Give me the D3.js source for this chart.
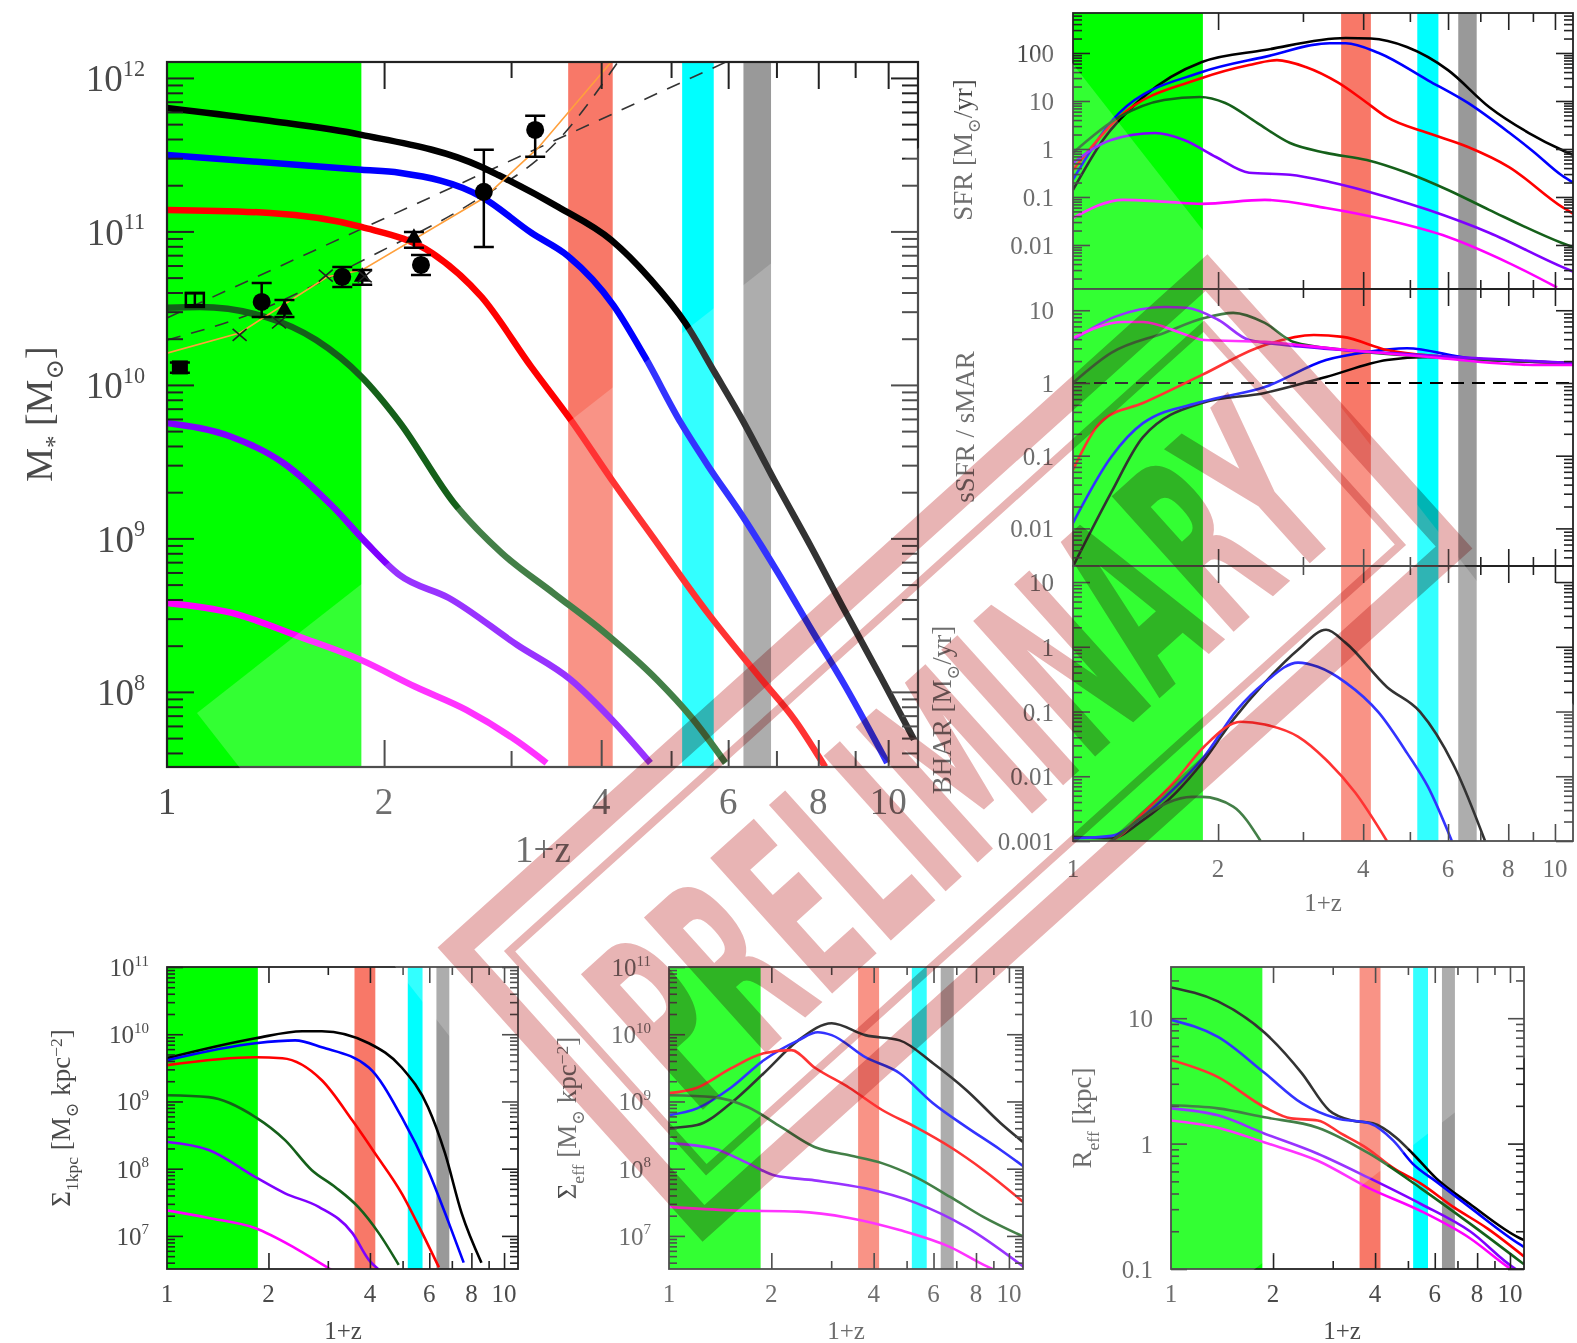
<!DOCTYPE html>
<html lang="en">
<head>
<meta charset="utf-8">
<title>Galaxy growth panels</title>
<script src="https://cdn.jsdelivr.net/npm/d3@7"></script>
<style>
  body { margin: 0; background: #fff; }
  svg text { font-family: "Liberation Serif", "DejaVu Serif", serif; fill: #4a4a4a; }
</style>
</head>
<body>
<script>
// shaded redshift windows (1+z), same in every panel
var bandRanges = [[1, 1.86], [3.6, 4.15], [5.18, 5.73], [6.3, 6.88]];
var bandColors = ["#00ff00", "#f87868", "#00ffff", "#999999"];

// one colour per simulated galaxy, in the order of the curve lists below
var seriesColors = ["#000000", "#0000ff", "#ff0000", "#15601a", "#7f00ff", "#ff00ff"];

// ---- M* [Msun] vs 1+z (big panel)
var mstarBlack = [[1,6.38e11],[1.37,5.3e11],[1.86,4.26e11],[2.73,2.63e11],[2.88,2.33e11],[3.49,1.44e11],[4.13,8.8e10],[4.69,4.83e10],[5.23,2.54e10],[5.75,1.2e10],[6.28,5.9e9],[7.0,2.26e9],[7.83,8.7e8],[8.73,3.3e8],[9.75,1.27e8],[10.86,4.9e7]];
var mstarBlue = [[1,3.15e11],[1.86,2.52e11],[2.1,2.41e11],[2.73,1.68e11],[3.2,9.8e10],[3.6,6.9e10],[4.16,3.3e10],[4.6,1.52e10],[5.16,5.65e9],[5.62,3.0e9],[6.28,1.4e9],[7.0,6.2e8],[7.83,2.54e8],[8.73,1.08e8],[9.97,3.45e7]];
var mstarRed = [[1,1.38e11],[1.39,1.32e11],[1.86,1.07e11],[2.33,7.24e10],[2.73,3.74e10],[3.2,1.31e10],[3.63,5.92e9],[4.14,2.4e9],[4.78,9.35e8],[5.62,3.27e8],[6.63,1.25e8],[7.42,6.58e7],[8.18,3.24e7]];
var mstarGreen = [[1,3.18e10],[1.11,3.22e10],[1.37,2.77e10],[1.61,1.96e10],[1.86,1.13e10],[2.1,5.74e9],[2.5,1.7e9],[2.91,8.05e8],[3.43,4.42e8],[4.05,2.42e8],[4.78,1.2e8],[5.33,6.87e7],[5.95,3.44e7]];
var mstarPurple = [[1,5.65e9],[1.23,4.58e9],[1.45,3.1e9],[1.7,1.6e9],[1.89,9.35e8],[2.1,5.78e8],[2.46,4.09e8],[3.06,2.02e8],[3.63,1.2e8],[4.14,6.58e7],[4.68,3.44e7]];
var mstarMagenta = [[1,3.8e8],[1.23,3.27e8],[1.53,2.28e8],[1.86,1.61e8],[2.21,1.08e8],[2.6,7.64e7],[3.07,4.72e7],[3.36,3.44e7]];

// observed stellar masses: [1+z, value, low, high]
var obsCircles = [[1.353,3.47e10,2.77e10,4.61e10],[1.75,5.06e10,4.35e10,5.87e10],[2.25,6.05e10,5.21e10,7.03e10],[2.75,1.81e11,7.92e10,3.4e11],[3.24,4.58e11,3.06e11,5.66e11]];
var obsTriangles = [[1.455,3.08e10,2.77e10,3.58e10],[1.865,5.06e10,4.5e10,5.6e10],[2.2,9.07e10,7.82e10,9.93e10]];
var obsSquares = [[1.042,1.3e10,1.2e10,1.4e10]];
var obsOpenSquares = [[1.093,3.58e10,3.3e10,3.95e10]];
var obsCrosses = [[1.261,2.12e10],[1.43,2.55e10],[1.66,5.15e10],[1.88,5.1e10]];
var abundanceOrange = [[1,1.61e10],[1.261,2.18e10],[1.669,5.06e10],[1.865,5.61e10],[2.75,1.65e11],[3.27,3.5e11],[4.13,1.27e12]];
var dashUpper = [[1,2.73e10],[5.96,1.27e12]];
var dashLower = [[1,1.96e10],[1.261,2.73e10],[1.97,7.35e10],[2.62,1.49e11],[3.49,3.95e11],[4.22,1.27e12]];

// ---- SFR [Msun/yr]
var sfrBlack = [[1,0.14],[1.154,1.54],[1.397,12],[1.852,65],[2.5,115],[3.68,205],[4.15,200],[4.93,133],[6.0,44],[7.3,7.5],[8.83,2.15],[10.34,0.95],[10.9,0.75]];
var sfrBlue = [[1,0.23],[1.246,5.6],[1.852,40],[2.5,83],[3.41,160],[3.68,160],[4.31,100],[5.45,27],[6.6,9.1],[8.03,2.2],[9.0,0.9],[10.34,0.28],[10.9,0.2]];
var sfrRed = [[1,0.365],[1.246,4.6],[1.852,30],[2.32,56],[2.65,71],[3.04,51],[3.55,24],[4.0,10.5],[4.48,4.6],[5.45,2.15],[6.6,1.1],[8.03,0.42],[10.34,0.062],[10.9,0.045]];
var sfrGreen = [[1,0.83],[1.246,4.6],[1.545,10.5],[1.834,12.1],[2.07,9.1],[2.41,3.5],[2.82,1.33],[3.35,0.83],[4.07,0.59],[4.93,0.32],[6.0,0.14],[7.3,0.054],[10.34,0.011],[10.9,0.009]];
var sfrPurple = [[1,0.51],[1.2,1.54],[1.48,2.15],[1.7,1.54],[1.98,0.68],[2.32,0.32],[2.82,0.29],[3.41,0.205],[4.48,0.1],[5.45,0.054],[7.3,0.018],[10.34,0.0035],[10.9,0.0028]];
var sfrMagenta = [[1,0.0365],[1.27,0.087],[1.57,0.079],[1.852,0.072],[2.5,0.087],[3.35,0.059],[4.48,0.033],[6.0,0.0147],[8.03,0.0042],[10.1,0.0013]];

// ---- sSFR / sMAR
var ssfrBlack = [[1,0.003],[1.2,0.031],[1.397,0.18],[1.852,0.53],[2.5,0.73],[3.35,1.21],[4.48,2.07],[5.45,2.28],[7.3,2.07],[10.9,1.88]];
var ssfrBlue = [[1,0.0119],[1.2,0.096],[1.397,0.28],[1.852,0.55],[2.5,0.88],[3.35,2.07],[4.07,2.67],[4.93,3.0],[6.6,2.2],[10.9,1.88]];
var ssfrRed = [[1,0.064],[1.154,0.31],[1.397,0.53],[1.852,1.29],[2.44,3.13],[3.16,4.57],[3.63,4.3],[4.48,2.84],[6.0,2.28],[10.9,1.88]];
var ssfrGreen = [[1,1.0],[1.2,2.59],[1.545,4.87],[1.87,7.8],[2.15,9.2],[2.5,6.7],[2.87,3.67],[3.68,2.84],[5.45,2.28],[10.9,1.88]];
var ssfrPurple = [[1,3.9],[1.22,8.1],[1.545,11.1],[1.72,10.8],[2.0,7.4],[2.32,3.9],[3.04,3.13],[4.48,2.59],[10.9,1.88]];
var ssfrMagenta = [[1,4.16],[1.27,6.9],[1.397,6.9],[1.72,4.57],[1.87,3.9],[2.5,3.67],[3.68,2.84],[5.45,2.28],[9.0,1.77],[10.9,1.77]];

// ---- BHAR [Msun/yr]
var bharBlack = [[1,0.00116],[1.2,0.0011],[1.397,0.0021],[1.636,0.0056],[1.852,0.016],[2.15,0.075],[2.5,0.28],[2.93,0.9],[3.35,1.83],[3.68,1.15],[4.48,0.24],[5.25,0.099],[6.23,0.0126],[7.16,0.001]];
var bharBlue = [[1,0.0011],[1.2,0.0012],[1.397,0.0024],[1.636,0.0069],[1.87,0.02],[2.19,0.106],[2.5,0.28],[2.93,0.57],[3.22,0.49],[3.68,0.28],[4.31,0.096],[4.93,0.023],[5.45,0.0069],[6.11,0.001]];
var bharRed = [[1,0.0008],[1.2,0.001],[1.397,0.0027],[1.636,0.0088],[1.87,0.0286],[2.23,0.0695],[2.5,0.063],[2.93,0.041],[3.35,0.018],[3.85,0.0056],[4.48,0.001]];
var bharGreen = [[1,0.0007],[1.2,0.001],[1.397,0.0024],[1.766,0.0048],[1.852,0.0048],[2.15,0.0034],[2.45,0.001]];

// ---- Sigma_1kpc [Msun kpc^-2]
var s1Black = [[1,4.4e9],[1.83,8.7e9],[2.52,1.11e10],[2.88,1.11e10],[3.97,7.35e9],[4.97,3.2e9],[5.95,8.2e8],[6.68,1.7e8],[7.48,2.2e7],[8.57,4e6]];
var s1Blue = [[1,4.1e9],[1.83,7.35e9],[2.4,8.1e9],[2.88,6.4e9],[3.97,3.2e9],[4.97,5.85e8],[5.95,9.5e7],[6.86,1.55e7],[7.59,4e6]];
var s1Red = [[1,3.47e9],[1.83,4.55e9],[2.2,4.4e9],[2.88,2.07e9],[3.55,5.2e8],[4.14,1.7e8],[4.97,4.3e7],[5.72,1.1e7],[6.41,3.4e6]];
var s1Green = [[1,1.24e9],[1.33,1.16e9],[1.83,5.85e8],[2.24,2.66e8],[2.69,9.5e7],[3.16,5.3e7],[3.69,2.7e7],[4.25,1.1e7],[4.87,3.7e6]];
var s1Purple = [[1,2.5e8],[1.33,1.9e8],[1.83,7.5e7],[2.24,4.3e7],[2.82,2.7e7],[3.55,1.1e7],[3.97,4.4e6],[4.3,3e6]];
var s1Magenta = [[1,2.4e7],[1.33,1.85e7],[1.83,1.3e7],[2.4,6.6e6],[3.02,3.3e6],[3.2,2.8e6]];

// ---- Sigma_eff [Msun kpc^-2]
var seBlack = [[1,4e8],[1.21,4.45e8],[1.52,9.4e8],[1.9,2.63e9],[2.4,8.1e9],[3.01,1.46e10],[3.78,9.7e9],[4.77,8.1e9],[5.98,3.7e9],[7.5,1.47e9],[9.46,4.75e8],[11.1,2.4e8]];
var seBlue = [[1,6.25e8],[1.21,7.9e8],[1.52,1.6e9],[1.9,4.1e9],[2.4,8.1e9],[2.74,1.07e10],[3.01,9.7e9],[3.78,4.55e9],[4.77,2.63e9],[5.98,9.4e8],[7.5,4.15e8],[9.46,1.9e8],[11.1,1.06e8]];
var seRed = [[1,1.33e9],[1.21,1.6e9],[1.52,3.1e9],[1.9,5.2e9],[2.29,5.8e9],[2.68,3.2e9],[3.39,1.6e9],[4.25,7.4e8],[5.32,4.15e8],[6.72,2.1e8],[8.43,9.5e7],[11.1,3.1e7]];
var seGreen = [[1,1.24e9],[1.35,1.16e9],[1.71,8.2e8],[2.14,4.15e8],[2.68,2.1e8],[3.39,1.58e8],[4.25,1.2e8],[5.32,7.5e7],[6.72,3.8e7],[8.43,1.9e7],[11.1,9.6e6]];
var sePurple = [[1,2.4e8],[1.35,2.0e8],[1.71,1.2e8],[2.05,7.9e7],[2.68,6.7e7],[3.78,5.1e7],[5.32,3.1e7],[7.5,1.35e7],[11.1,3.4e6]];
var seMagenta = [[1,2.7e7],[1.52,2.4e7],[2.4,2.3e7],[3.39,1.85e7],[4.77,1.22e7],[6.72,6.8e6],[8.43,3.7e6],[9.5,2.8e6]];

// ---- R_eff [kpc]
var reBlack = [[1,17.6],[1.376,13.6],[1.89,7.65],[2.43,3.65],[2.93,1.84],[3.42,1.53],[3.94,1.45],[4.61,1.12],[5.17,0.83],[6.05,0.53],[7.62,0.33],[10.7,0.176],[11,0.17]];
var reBlue = [[1,9.7],[1.376,7.1],[1.89,3.65],[2.43,2.1],[3.07,1.59],[3.85,1.45],[4.52,1.06],[5.17,0.69],[6.05,0.5],[7.62,0.31],[10.7,0.157],[11,0.15]];
var reRed = [[1,4.64],[1.376,3.39],[1.89,1.95],[2.26,1.59],[2.71,1.53],[3.18,1.2],[3.76,0.93],[4.52,0.64],[5.46,0.48],[6.84,0.31],[8.59,0.21],[11,0.126]];
var reGreen = [[1,2.02],[1.376,1.91],[1.89,1.62],[2.71,1.34],[3.85,0.83],[5.46,0.44],[7.62,0.23],[11,0.109]];
var rePurple = [[1,1.91],[1.376,1.68],[1.89,1.2],[2.71,0.83],[3.85,0.53],[5.46,0.33],[7.62,0.2],[10.4,0.1],[11,0.092]];
var reMagenta = [[1,1.53],[1.376,1.34],[1.89,1.02],[2.71,0.73],[3.85,0.44],[5.46,0.29],[7.62,0.176],[9.8,0.105],[11,0.085]];

// x tick labels
var xLabelTicks = [1, 2, 4, 6, 8, 10];
var xMinorTicks = [3, 5, 7, 9];

var svg = d3.select("body").append("svg")
            .attr("width", 1577)
            .attr("height", 1343);
var defs = svg.append("defs");

// decades and in-between ticks for a log axis
var decadeTicks = function(dom) {
  var out = [];
  for (var e = Math.floor(Math.log10(dom[0])); e <= Math.ceil(Math.log10(dom[1])); e++) {
    var v = Math.pow(10, e);
    if (v >= dom[0] * 0.999 && v <= dom[1] * 1.001) out.push(v);
  }
  return out;
}
var minorTicks = function(dom) {
  var out = [];
  for (var e = Math.floor(Math.log10(dom[0])); e <= Math.ceil(Math.log10(dom[1])); e++) {
    for (var k = 2; k < 10; k++) {
      var v = k * Math.pow(10, e);
      if (v > dom[0] && v < dom[1]) out.push(v);
    }
  }
  return out;
}

var panelCount = 0;
var drawPanel = function(p) {
  panelCount++;
  var x = d3.scaleLog().domain([1, p.xmax]).range([p.left, p.right]);
  var y = d3.scaleLog().domain(p.ydom).range([p.bottom, p.top]);
  var g = svg.append("g");

  defs.append("clipPath").attr("id", "clip" + panelCount)
      .append("rect")
      .attr("x", p.left).attr("y", p.top)
      .attr("width", p.right - p.left).attr("height", p.bottom - p.top);
  var body = g.append("g").attr("clip-path", "url(#clip" + panelCount + ")");

  // shaded redshift windows
  body.selectAll("rect.band")
      .data(bandRanges)
      .enter()
      .append("rect")
      .attr("x", function(d) { return x(d[0]); })
      .attr("width", function(d) { return x(d[1]) - x(d[0]); })
      .attr("y", p.top)
      .attr("height", p.bottom - p.top)
      .attr("fill", function(d, i) { return bandColors[i]; });

  if (p.under) p.under(body, x, y);

  var line = d3.line()
               .x(function(d) { return x(d[0]); })
               .y(function(d) { return y(d[1]); })
               .curve(d3.curveMonotoneX);

  body.selectAll("path.curve")
      .data(p.curves)
      .enter()
      .append("path")
      .attr("d", function(d) { return d.length ? line(d) : null; })
      .attr("fill", "none")
      .attr("stroke", function(d, i) { return seriesColors[i]; })
      .attr("stroke-width", p.lw)
      .attr("stroke-linejoin", "round");

  if (p.over) p.over(body, x, y);

  // ticks on all four sides, pointing inward
  var addTicks = function(axisFn, scale, vals, size, tr) {
    g.append("g")
     .attr("transform", tr)
     .call(axisFn(scale).tickValues(vals).tickSize(-size).tickFormat(""))
     .call(function(a) { a.select(".domain").remove(); })
     .selectAll("line")
     .attr("stroke", "#222")
     .attr("stroke-width", p.tw);
  }
  var yMaj = decadeTicks(p.ydom), yMin = minorTicks(p.ydom);
  addTicks(d3.axisLeft, y, yMaj, p.tmaj, "translate(" + p.left + ",0)");
  addTicks(d3.axisLeft, y, yMin, p.tmin, "translate(" + p.left + ",0)");
  addTicks(d3.axisRight, y, yMaj, p.tmaj, "translate(" + p.right + ",0)");
  addTicks(d3.axisRight, y, yMin, p.tmin, "translate(" + p.right + ",0)");
  var xl = xLabelTicks.filter(function(v) { return v > 1 && v < p.xmax; });
  addTicks(d3.axisBottom, x, xl, p.tmaj, "translate(0," + p.bottom + ")");
  addTicks(d3.axisBottom, x, xMinorTicks, p.tmin, "translate(0," + p.bottom + ")");
  addTicks(d3.axisTop, x, xl, p.tmaj, "translate(0," + p.top + ")");
  addTicks(d3.axisTop, x, xMinorTicks, p.tmin, "translate(0," + p.top + ")");

  g.append("rect")
   .attr("x", p.left).attr("y", p.top)
   .attr("width", p.right - p.left).attr("height", p.bottom - p.top)
   .attr("fill", "none").attr("stroke", "#222").attr("stroke-width", p.fw);

  // y tick labels
  var ylab = g.selectAll("text.ylab")
              .data(p.ylabels || yMaj)
              .enter()
              .append("text")
              .attr("x", p.left - p.ypad)
              .attr("y", function(d) { return y(d) + p.fs * 0.36; })
              .attr("text-anchor", "end")
              .attr("font-size", p.fs);
  if (p.powers) {
    ylab.text("10")
        .append("tspan")
        .attr("dy", -p.fs * 0.42)
        .attr("font-size", p.fs * 0.6)
        .text(function(d) { return Math.round(Math.log10(d)); });
  } else {
    ylab.text(function(d) { return d3.format("~g")(d); });
  }

  // x tick labels
  if (p.xlabels) {
    g.selectAll("text.xlab")
     .data(xLabelTicks.filter(function(v) { return v < p.xmax; }))
     .enter()
     .append("text")
     .attr("x", function(d) { return x(d); })
     .attr("y", p.bottom + p.xpad)
     .attr("text-anchor", "middle")
     .attr("font-size", p.fs)
     .text(function(d) { return d; });
    g.append("text")
     .attr("x", p.xtitle[0]).attr("y", p.xtitle[1])
     .attr("text-anchor", "middle")
     .attr("font-size", p.fs)
     .text("1+z");
  }

  // y title, built from pieces: [text, shift]  (shift: 0 normal, 1 sub, -1 sup)
  var t = g.append("text")
           .attr("transform", "translate(" + p.ytitle[0] + "," + p.ytitle[1] + ") rotate(-90)")
           .attr("text-anchor", "middle")
           .attr("font-size", p.tfs);
  var level = 0;
  p.ytitleParts.forEach(function(part) {
    var target = part[1] * p.tfs * 0.3;
    t.append("tspan")
     .attr("dy", target - level)
     .attr("font-size", part[1] ? p.tfs * 0.65 : p.tfs)
     .text(part[0]);
    level = target;
  });
}

var S = "\u2299";

// big stellar-mass panel
drawPanel({
  left: 167, right: 918, top: 62, bottom: 767, xmax: 11,
  ydom: [3.24e7, 1.27e12], lw: 6.5, tw: 2, fw: 2.2, tmaj: 27, tmin: 16,
  fs: 37, tfs: 38, ypad: 22, xpad: 47, powers: true, xlabels: true, xtitle: [543, 862],
  ytitle: [52, 414], ytitleParts: [["M", 0], ["*", 1], [" [M", 0], [S, 1], ["]", 0]],
  curves: [mstarBlack, mstarBlue, mstarRed, mstarGreen, mstarPurple, mstarMagenta],
  under: function(body, x, y) {
    var l = d3.line().x(function(d) { return x(d[0]); }).y(function(d) { return y(d[1]); });
    body.append("path").attr("d", l(dashUpper)).attr("fill", "none")
        .attr("stroke", "#333").attr("stroke-width", 1.6).attr("stroke-dasharray", "14,11");
    body.append("path").attr("d", l.curve(d3.curveMonotoneX)(dashLower)).attr("fill", "none")
        .attr("stroke", "#333").attr("stroke-width", 1.6).attr("stroke-dasharray", "14,11");
  },
  over: function(body, x, y) {
    var l = d3.line().x(function(d) { return x(d[0]); }).y(function(d) { return y(d[1]); });
    body.append("path").attr("d", l(abundanceOrange)).attr("fill", "none")
        .attr("stroke", "#ffa03c").attr("stroke-width", 1.6);
    var errs = obsCircles.concat(obsTriangles, obsSquares, obsOpenSquares);
    body.selectAll("g.err")
        .data(errs)
        .enter()
        .append("path")
        .attr("d", function(d) {
          var cx = x(d[0]), lo = y(d[2]), hi = y(d[3]);
          return "M" + cx + "," + lo + "V" + hi +
                 "M" + (cx - 10) + "," + lo + "H" + (cx + 10) +
                 "M" + (cx - 10) + "," + hi + "H" + (cx + 10);
        })
        .attr("stroke", "#000").attr("stroke-width", 2.5).attr("fill", "none");
    body.selectAll("circle.obs")
        .data(obsCircles).enter().append("circle")
        .attr("cx", function(d) { return x(d[0]); })
        .attr("cy", function(d) { return y(d[1]); })
        .attr("r", 9).attr("fill", "#000");
    body.selectAll("path.tri")
        .data(obsTriangles).enter().append("path")
        .attr("transform", function(d) { return "translate(" + x(d[0]) + "," + y(d[1]) + ")"; })
        .attr("d", d3.symbol().type(d3.symbolTriangle).size(120))
        .attr("fill", "#000");
    body.selectAll("rect.sq")
        .data(obsSquares).enter().append("rect")
        .attr("x", function(d) { return x(d[0]) - 8; })
        .attr("y", function(d) { return y(d[1]) - 7; })
        .attr("width", 16).attr("height", 14).attr("fill", "#000");
    body.selectAll("rect.osq")
        .data(obsOpenSquares).enter().append("rect")
        .attr("x", function(d) { return x(d[0]) - 9; })
        .attr("y", function(d) { return y(d[1]) - 7; })
        .attr("width", 18).attr("height", 14)
        .attr("fill", "none").attr("stroke", "#000").attr("stroke-width", 2.5);
    body.selectAll("path.cross")
        .data(obsCrosses).enter().append("path")
        .attr("transform", function(d) { return "translate(" + x(d[0]) + "," + y(d[1]) + ")"; })
        .attr("d", "M-7,-6L7,6M-7,6L7,-6")
        .attr("stroke", "#222").attr("stroke-width", 1.6);
  }
});

// right column: SFR, sSFR/sMAR, BHAR
var rightBase = { left: 1073, right: 1573, xmax: 10.9, lw: 2.6, tw: 1.6, fw: 1.8,
                  tmaj: 17, tmin: 9, fs: 25, tfs: 27, ypad: 19 };
drawPanel(Object.assign({}, rightBase, {
  top: 13, bottom: 289, ydom: [0.00121, 681],
  ylabels: [100, 10, 1, 0.1, 0.01],
  ytitle: [972, 150], ytitleParts: [["SFR [M", 0], [S, 1], ["/yr]", 0]],
  curves: [sfrBlack, sfrBlue, sfrRed, sfrGreen, sfrPurple, sfrMagenta]
}));
drawPanel(Object.assign({}, rightBase, {
  top: 289, bottom: 566, ydom: [0.00304, 19.6],
  ytitle: [974, 427], ytitleParts: [["sSFR / sMAR", 0]],
  curves: [ssfrBlack, ssfrBlue, ssfrRed, ssfrGreen, ssfrPurple, ssfrMagenta],
  under: function(body, x, y) {
    body.append("line")
        .attr("x1", x(1)).attr("x2", x(10.9))
        .attr("y1", y(1)).attr("y2", y(1))
        .attr("stroke", "#000").attr("stroke-width", 2).attr("stroke-dasharray", "13,8");
  }
}));
drawPanel(Object.assign({}, rightBase, {
  top: 566, bottom: 841, ydom: [0.001, 17.7],
  xlabels: true, xpad: 36, xtitle: [1323, 911],
  ytitle: [951, 710], ytitleParts: [["BHAR [M", 0], [S, 1], ["/yr]", 0]],
  curves: [bharBlack, bharBlue, bharRed, bharGreen, [], []]
}));

// bottom row
var bottomBase = { top: 967, bottom: 1269, xmax: 11, lw: 2.6, tw: 1.6, fw: 1.8,
                   tmaj: 16, tmin: 8, fs: 25, tfs: 27, ypad: 18, xlabels: true, xpad: 33 };
drawPanel(Object.assign({}, bottomBase, {
  left: 167, right: 518, ydom: [3.22e6, 1e11], powers: true,
  xtitle: [343, 1339],
  ytitle: [70, 1118], ytitleParts: [["\u03a3", 0], ["1kpc", 1], [" [M", 0], [S, 1], [" kpc", 0], ["\u22122", -1], ["]", 0]],
  curves: [s1Black, s1Blue, s1Red, s1Green, s1Purple, s1Magenta]
}));
drawPanel(Object.assign({}, bottomBase, {
  left: 669, right: 1023, ydom: [3.22e6, 1e11], powers: true,
  xtitle: [846, 1339],
  ytitle: [576, 1118], ytitleParts: [["\u03a3", 0], ["eff", 1], [" [M", 0], [S, 1], [" kpc", 0], ["\u22122", -1], ["]", 0]],
  curves: [seBlack, seBlue, seRed, seGreen, sePurple, seMagenta]
}));
drawPanel(Object.assign({}, bottomBase, {
  left: 1171, right: 1524, ydom: [0.1, 25.6],
  xtitle: [1342, 1339],
  ytitle: [1091, 1118], ytitleParts: [["R", 0], ["eff", 1], [" [kpc]", 0]],
  curves: [reBlack, reBlue, reRed, reGreen, rePurple, reMagenta]
}));

// faint white diamond of the watermark
svg.append("polygon")
   .attr("points", "197,713 1055,41 1726,900 868,1572")
   .attr("fill", "#fff").attr("opacity", 0.2);

// PRELIMINARY stamp
var stamp = svg.append("g")
               .attr("transform", "translate(955,748) rotate(-42)")
               .style("mix-blend-mode", "multiply");
stamp.append("rect")
     .attr("x", -505).attr("y", -185).attr("width", 1010).attr("height", 370)
     .attr("fill", "none").attr("stroke", "#e8b4b4").attr("stroke-width", 26);
stamp.append("rect")
     .attr("x", -467).attr("y", -147).attr("width", 934).attr("height", 294)
     .attr("fill", "none").attr("stroke", "#e8b4b4").attr("stroke-width", 8);
stamp.append("text")
     .attr("x", 0).attr("y", 100)
     .attr("text-anchor", "middle")
     .attr("font-size", 250)
     .attr("font-weight", "bold")
     .attr("textLength", 880)
     .attr("lengthAdjust", "spacingAndGlyphs")
     .style("font-family", "'DejaVu Sans Condensed', 'DejaVu Sans', sans-serif")
     .style("fill", "#e8b4b4")
     .text("PRELIMINARY");
</script>
</body>
</html>
